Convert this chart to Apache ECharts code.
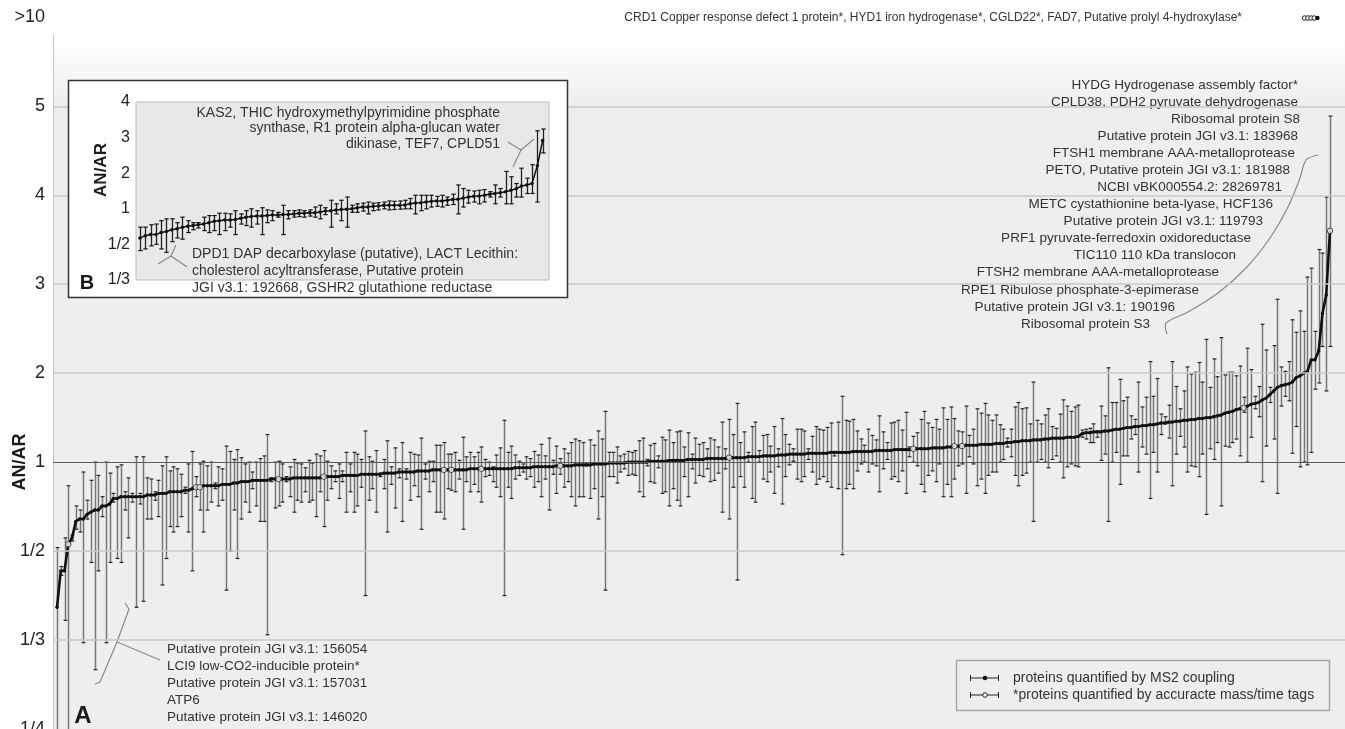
<!DOCTYPE html>
<html><head><meta charset="utf-8">
<script src="https://cdn.jsdelivr.net/npm/echarts@6/dist/echarts.min.js"></script>
<style>html,body{margin:0;padding:0;background:#fff}#c{width:1345px;height:729px}</style>
</head><body><div id="c"></div>
<script>
// ---------- DATA (AN/AR ratios) ----------
const mainRatio = [
0.38,0.45,0.45,0.52,0.54,0.60,0.61,0.61,0.63,0.64,
0.65,0.65,0.67,0.67,0.68,0.71,0.71,0.72,0.72,0.72,
0.72,0.72,0.72,0.72,0.73,0.73,0.73,0.74,0.74,0.74,
0.75,0.75,0.75,0.75,0.76,0.76,0.77,0.78,0.78,0.79,
0.79,0.79,0.79,0.79,0.80,0.80,0.80,0.81,0.81,0.82,
0.82,0.82,0.83,0.83,0.83,0.83,0.83,0.84,0.84,0.84,
0.84,0.84,0.84,0.85,0.85,0.85,0.85,0.85,0.85,0.85,
0.85,0.86,0.86,0.86,0.86,0.86,0.87,0.87,0.87,0.87,
0.87,0.88,0.88,0.88,0.88,0.88,0.88,0.89,0.89,0.89,
0.89,0.90,0.90,0.90,0.90,0.90,0.91,0.91,0.91,0.91,
0.92,0.92,0.92,0.92,0.92,0.92,0.92,0.92,0.92,0.92,
0.93,0.93,0.93,0.93,0.93,0.93,0.93,0.93,0.93,0.93,
0.93,0.93,0.94,0.94,0.94,0.94,0.94,0.95,0.95,0.95,
0.95,0.95,0.95,0.96,0.96,0.96,0.96,0.96,0.97,0.97,
0.97,0.97,0.97,0.98,0.98,0.98,0.98,0.99,0.99,0.99,
0.99,0.99,1.00,1.00,1.00,1.00,1.00,1.00,1.01,1.01,
1.01,1.01,1.01,1.02,1.02,1.02,1.02,1.02,1.03,1.03,
1.03,1.03,1.03,1.04,1.04,1.04,1.04,1.04,1.04,1.05,
1.05,1.05,1.05,1.05,1.06,1.06,1.06,1.06,1.07,1.07,
1.07,1.07,1.08,1.08,1.08,1.09,1.09,1.09,1.09,1.09,
1.10,1.10,1.10,1.10,1.10,1.10,1.11,1.11,1.11,1.11,
1.11,1.11,1.12,1.12,1.12,1.12,1.12,1.12,1.13,1.13,
1.13,1.13,1.13,1.14,1.14,1.14,1.14,1.14,1.15,1.15,
1.15,1.15,1.15,1.16,1.16,1.16,1.16,1.17,1.17,1.18,
1.18,1.18,1.19,1.19,1.19,1.19,1.20,1.20,1.20,1.20,
1.21,1.21,1.21,1.22,1.22,1.23,1.23,1.24,1.24,1.24,
1.25,1.25,1.25,1.26,1.26,1.27,1.27,1.27,1.27,1.28,
1.28,1.28,1.29,1.32,1.33,1.33,1.34,1.34,1.34,1.35,
1.35,1.36,1.37,1.37,1.38,1.39,1.39,1.40,1.40,1.41,
1.41,1.42,1.42,1.43,1.44,1.44,1.45,1.45,1.46,1.46,
1.47,1.47,1.48,1.48,1.49,1.49,1.50,1.50,1.51,1.52,
1.53,1.55,1.56,1.57,1.59,1.60,1.61,1.63,1.65,1.66,
1.67,1.70,1.72,1.76,1.80,1.84,1.86,1.87,1.88,1.90,
1.95,1.97,2.00,2.02,2.15,2.15,2.25,2.67,2.88,3.60];
const mainLow = [
0.20,0.44,0.36,0.20,0.53,0.57,0.56,0.33,0.61,0.47,
0.30,0.45,0.62,0.33,0.47,0.69,0.48,0.47,0.65,0.54,
0.69,0.38,0.68,0.39,0.61,0.61,0.70,0.62,0.42,0.48,
0.58,0.56,0.58,0.62,0.74,0.56,0.45,0.72,0.65,0.56,
0.65,0.69,0.77,0.67,0.70,0.41,0.50,0.65,0.48,0.61,
0.69,0.64,0.77,0.67,0.60,0.60,0.34,0.82,0.66,0.67,
0.69,0.82,0.72,0.64,0.70,0.69,0.75,0.69,0.70,0.62,
0.75,0.58,0.70,0.77,0.82,0.71,0.82,0.64,0.75,0.64,
0.67,0.78,0.40,0.70,0.77,0.64,0.86,0.77,0.56,0.80,
0.66,0.85,0.60,0.84,0.70,0.79,0.72,0.57,0.84,0.75,
0.82,0.64,0.64,0.61,0.77,0.76,0.75,0.84,0.57,0.82,
0.75,0.80,0.75,0.69,0.86,0.87,0.82,0.78,0.72,0.40,
0.78,0.71,0.84,0.87,0.90,0.84,0.86,0.78,0.82,0.72,
0.84,0.65,0.88,0.74,0.88,0.78,0.82,0.72,0.67,0.72,
0.72,0.96,0.71,0.77,0.61,0.72,0.41,0.86,0.86,0.81,
0.90,0.93,0.87,0.88,0.87,0.75,0.72,0.96,0.82,0.81,
0.94,0.74,0.75,0.67,0.77,0.70,0.67,0.86,0.72,0.93,
0.81,0.87,0.86,0.93,0.82,0.83,0.89,0.64,0.93,0.61,
0.78,0.43,0.86,0.78,1.00,0.71,0.69,1.00,0.84,0.82,
0.90,0.74,0.95,0.68,0.86,0.97,1.01,0.84,0.82,0.86,
1.03,0.90,0.80,0.84,0.86,0.82,0.78,1.07,0.77,0.49,
0.77,0.80,0.77,0.91,0.98,1.00,0.90,0.98,0.96,0.75,
0.93,1.03,0.84,0.86,0.82,0.91,0.74,1.06,1.00,0.96,
0.80,0.75,0.87,0.91,0.82,0.98,0.72,0.80,0.72,0.84,
0.96,0.98,0.74,1.06,0.98,0.79,0.84,0.74,0.87,0.90,
0.90,1.00,1.03,1.17,1.06,0.87,0.79,0.87,0.89,1.00,
0.60,1.00,1.03,1.00,0.94,1.03,1.07,1.00,0.85,0.95,
0.98,0.96,0.95,1.28,1.26,1.22,1.22,1.28,1.02,1.09,
0.60,1.00,1.11,0.80,1.07,1.07,1.26,1.31,0.90,1.17,
1.09,0.71,1.11,0.90,1.31,1.43,1.27,0.79,1.09,1.29,
1.17,0.90,0.96,0.95,0.86,1.09,0.63,1.15,1.03,1.22,
0.67,1.18,1.17,1.22,1.26,1.07,1.56,1.00,1.28,1.60,
1.51,0.82,1.18,1.67,1.26,0.74,1.63,1.74,1.69,1.10,
1.40,0.95,1.00,0.97,1.11,1.82,1.89,2.30,1.80,2.30];
const mainHigh = [
0.51,0.46,0.54,0.79,0.55,0.67,0.65,0.90,0.70,0.83,
1.00,0.87,0.72,1.00,0.89,0.74,0.95,0.97,0.75,0.85,
0.74,1.06,0.74,1.06,0.85,0.84,0.75,0.83,0.96,1.06,
0.91,0.95,0.93,0.88,0.78,0.98,1.12,0.86,0.98,1.01,
0.96,1.00,0.81,0.95,0.93,1.18,1.12,1.03,1.14,1.05,
0.98,1.00,0.90,1.00,1.04,1.07,1.31,0.85,1.00,1.01,
0.98,0.86,0.95,1.03,0.99,0.98,0.94,1.02,0.99,1.09,
1.07,1.13,1.01,0.96,0.91,0.98,0.91,1.11,0.98,1.11,
1.09,1.03,1.35,1.06,1.01,1.13,0.89,1.03,1.24,0.95,
1.16,0.93,1.22,0.93,1.11,1.09,1.08,1.27,0.98,1.01,
1.01,1.19,1.19,1.22,1.09,1.09,1.11,1.02,1.28,1.06,
1.11,1.06,1.11,1.17,1.03,1.00,0.95,1.08,1.16,1.47,
1.11,1.18,1.08,1.01,0.98,1.06,1.04,1.12,1.08,1.20,
1.07,1.27,1.02,1.18,1.04,1.15,1.10,1.22,1.26,1.24,
1.22,0.98,1.25,1.19,1.35,1.26,1.57,1.11,1.11,1.17,
1.07,1.09,1.12,1.11,1.13,1.24,1.27,1.03,1.19,1.21,
1.07,1.28,1.25,1.36,1.22,1.34,1.35,1.17,1.33,1.09,
1.27,1.20,1.22,1.15,1.27,1.25,1.17,1.45,1.15,1.48,
1.31,1.66,1.22,1.34,1.11,1.40,1.45,1.13,1.30,1.31,
1.18,1.40,1.15,1.49,1.31,1.20,1.15,1.37,1.37,1.35,
1.15,1.29,1.40,1.37,1.36,1.39,1.44,1.12,1.45,1.74,
1.47,1.46,1.48,1.35,1.26,1.19,1.37,1.30,1.25,1.52,
1.34,1.22,1.44,1.45,1.47,1.36,1.56,1.17,1.29,1.33,
1.48,1.57,1.44,1.39,1.48,1.37,1.61,1.48,1.62,1.49,
1.35,1.34,1.63,1.30,1.37,1.60,1.55,1.66,1.53,1.47,
1.53,1.42,1.37,1.27,1.37,1.62,1.67,1.60,1.61,1.43,
1.90,1.47,1.43,1.53,1.60,1.40,1.38,1.54,1.70,1.63,
1.57,1.62,1.64,1.36,1.37,1.38,1.43,1.35,1.63,1.52,
2.06,1.67,1.67,1.93,1.69,1.73,1.52,1.48,1.90,1.62,
1.73,2.13,1.74,1.94,1.54,1.51,1.64,2.13,1.85,1.60,
1.80,2.07,1.99,2.01,2.12,1.90,2.38,1.84,2.16,1.96,
2.40,1.98,2.01,2.01,1.97,2.08,1.73,2.28,2.04,1.74,
1.85,2.55,2.26,1.84,2.31,2.83,2.07,2.02,2.13,2.60,
2.46,2.70,2.47,3.08,3.18,2.47,3.39,3.35,3.98,4.89];
// indices of proteins quantified by accurate mass/time tags (open circles)
const mainAmtIdx = [3,37,38,59,71,103,105,113,134,179,228,239,241,316,339];

// proteins with AN/AR > 10 (true = accurate mass/time tag)
const overTenAmt = [true, true, true, true, false];

// inset B
const insetRatio = [
0.55,0.57,0.58,0.58,0.60,0.61,0.63,0.64,0.66,0.67,
0.68,0.69,0.70,0.72,0.74,0.75,0.76,0.76,0.77,0.79,
0.81,0.82,0.83,0.83,0.84,0.85,0.85,0.86,0.86,0.875,
0.89,0.89,0.90,0.90,0.92,0.94,0.95,0.97,0.98,0.99,
1.00,1.03,1.05,1.05,1.07,1.08,1.10,1.10,1.10,1.10,
1.11,1.14,1.16,1.17,1.19,1.21,1.22,1.22,1.24,1.26,
1.27,1.30,1.33,1.35,1.36,1.38,1.41,1.43,1.45,1.48,
1.52,1.56,1.64,1.67,1.71,2.21,2.92];
const insetLow = [
0.46,0.47,0.49,0.50,0.47,0.45,0.52,0.55,0.54,0.60,
0.63,0.65,0.62,0.60,0.62,0.58,0.62,0.66,0.58,0.70,
0.68,0.66,0.70,0.58,0.72,0.75,0.81,0.58,0.78,0.81,
0.82,0.81,0.83,0.81,0.78,0.86,0.66,0.875,0.75,0.66,
0.91,0.91,0.94,0.875,0.95,0.97,1.00,0.97,0.98,0.99,
1.00,1.00,0.875,0.95,1.00,1.05,1.07,1.05,1.10,1.12,
0.875,1.05,1.16,1.19,1.14,1.19,1.33,1.14,1.33,1.14,
1.14,1.33,1.33,1.43,1.43,1.19,2.57];
const insetHigh = [
0.66,0.66,0.69,0.70,0.75,0.78,0.78,0.72,0.81,0.75,
0.72,0.72,0.81,0.84,0.84,0.89,0.89,0.875,0.95,0.875,
0.95,1.00,0.95,1.03,0.97,0.95,0.91,1.10,0.95,0.95,
0.97,0.95,0.97,1.05,1.10,1.03,1.24,1.14,1.24,1.33,
1.10,1.14,1.16,1.19,1.16,1.17,1.19,1.22,1.21,1.22,
1.24,1.29,1.38,1.38,1.38,1.38,1.35,1.38,1.33,1.41,
1.67,1.57,1.52,1.50,1.52,1.54,1.48,1.67,1.57,2.05,
1.90,1.71,2.14,1.86,2.24,3.19,3.24];

// tick labels (axis position -> label)
const mainTickLabels = {'-3':'1/4','-2':'1/3','-1':'1/2','0':'1','1':'2','2':'3','3':'4','4':'5','5':'>10'};
const insetTickLabels = {'-2':'1/3','-1':'1/2','0':'1','1':'2','2':'3','3':'4'};

// texts
const overTenText = 'CRD1 Copper response defect 1 protein*, HYD1 iron hydrogenase*, CGLD22*, FAD7, Putative prolyl 4-hydroxylase*';
const annotHigh = ['HYDG Hydrogenase assembly factor*','CPLD38, PDH2 pyruvate dehydrogenase','Ribosomal protein S8',
 'Putative protein JGI v3.1: 183968','FTSH1 membrane AAA-metalloprotease','PETO, Putative protein JGI v3.1: 181988',
 'NCBI vBK000554.2: 28269781','METC cystathionine beta-lyase, HCF136','Putative protein JGI v3.1: 119793',
 'PRF1 pyruvate-ferredoxin oxidoreductase','TIC110 110 kDa translocon','FTSH2 membrane AAA-metalloprotease',
 'RPE1 Ribulose phosphate-3-epimerase','Putative protein JGI v3.1: 190196','Ribosomal protein S3'];
const annotLow = ['Putative protein JGI v3.1: 156054','LCI9 low-CO2-inducible protein*','Putative protein JGI v3.1: 157031','ATP6','Putative protein JGI v3.1: 146020'];
const insetAnnotHigh = ['KAS2, THIC hydroxymethylpyrimidine phosphate','synthase, R1 protein alpha-glucan water','dikinase, TEF7, CPLD51'];
const insetAnnotLow = ['DPD1 DAP decarboxylase (putative), LACT Lecithin:','cholesterol acyltransferase, Putative protein','JGI v3.1: 192668, GSHR2 glutathione reductase'];
const legendLabels = ['proteins quantified by MS2 coupling','*proteins quantified by accuracte mass/time tags'];
const axisTitle = 'AN/AR';

// ---------- BUILD ----------
const FONT = '"Liberation Sans", Arial, Helvetica, sans-serif';
function toAxis(v){ return v >= 1 ? v - 1 : 1 - 1 / v; }

function makeErr(capHalf, lineColor, capColor, lw){
  return function(params, api){
    const i = api.value(0);
    const pLo = api.coord([i, api.value(1)]);
    const pHi = api.coord([i, api.value(2)]);
    const cs = params.coordSys;
    const top = cs.y, bot = cs.y + cs.height;
    const x = Math.round(pLo[0]) + 0.5;
    const yLo = Math.min(pLo[1], bot), yHi = Math.max(pHi[1], top);
    const ch = [{type:'line', shape:{x1:x,y1:yLo,x2:x,y2:yHi}, style:{stroke:lineColor,lineWidth:lw}}];
    if (pLo[1] <= bot) ch.push({type:'line', shape:{x1:x-capHalf,y1:pLo[1],x2:x+capHalf,y2:pLo[1]}, style:{stroke:capColor,lineWidth:1.2}});
    if (pHi[1] >= top) ch.push({type:'line', shape:{x1:x-capHalf,y1:pHi[1],x2:x+capHalf,y2:pHi[1]}, style:{stroke:capColor,lineWidth:1.2}});
    return {type:'group', children:ch};
  };
}

const mainErrData = mainRatio.map((v,i)=>[i, toAxis(mainLow[i]), toAxis(mainHigh[i])]);
const mainLineData = mainRatio.map((v,i)=>[i, toAxis(v)]);
const mainOpenData = mainAmtIdx.map(i=>[i, toAxis(mainRatio[i])]);
const insetErrData = insetRatio.map((v,i)=>[i, toAxis(insetLow[i]), toAxis(insetHigh[i])]);
const insetLineData = insetRatio.map((v,i)=>[i, toAxis(v)]);
const overTenData = overTenAmt.map((amt,i)=>({value:[i,'>10'], itemStyle: amt ? {color:'#fff',borderColor:'#222',borderWidth:1} : {color:'#111'}}));

const lightGrid = {color:'#c9c9c9', width:1.5, type:'solid'};
const darkGrid = {color:'#5a5a5a', width:1, type:'solid'};

const graphics = [];
graphics.push({type:'line', z:1, shape:{x1:53.5,y1:35,x2:53.5,y2:729}, style:{stroke:'#c4c4c4',lineWidth:1}, silent:true});
graphics.push({type:'text', z:5, x:20, y:462, rotation:Math.PI/2, style:{text:axisTitle, font:'bold 18px '+FONT, fill:'#1a1a1a', textAlign:'center', textVerticalAlign:'middle'}});
graphics.push({type:'text', z:5, x:83, y:716, style:{text:'A', font:'bold 24px '+FONT, fill:'#1a1a1a', textAlign:'center', textVerticalAlign:'middle'}});
graphics.push({type:'text', z:5, x:1242, y:18, style:{text:overTenText, font:'12px '+FONT, fill:'#333', textAlign:'right', textVerticalAlign:'middle'}});
const highRight = [1298,1298,1300,1298,1295,1290,1282,1273,1263,1251,1236,1219,1199,1175,1150];
annotHigh.forEach((t,k)=>graphics.push({type:'text', z:5, x:highRight[k], y:85+17.07*k, style:{text:t, font:'13.5px '+FONT, fill:'#333', textAlign:'right', textVerticalAlign:'middle'}}));
graphics.push({type:'polyline', z:5, shape:{points:[[1167,334],[1166,323],[1188,312],[1218,293],[1246,268],[1270,238],[1289,205],[1300,178],[1306,160],[1318,155]], smooth:0.3}, style:{stroke:'#8a8a8a', lineWidth:1.2, fill:null}});
annotLow.forEach((t,k)=>graphics.push({type:'text', z:5, x:167, y:649+17*k, style:{text:t, font:'13.5px '+FONT, fill:'#333', textAlign:'left', textVerticalAlign:'middle'}}));
graphics.push({type:'polyline', z:5, shape:{points:[[125,603],[129,609],[117,642],[100,682],[95,684]]}, style:{stroke:'#8a8a8a', lineWidth:1.2, fill:null}});
graphics.push({type:'polyline', z:5, shape:{points:[[117,642],[160,660]]}, style:{stroke:'#8a8a8a', lineWidth:1.2, fill:null}});
graphics.push({type:'rect', z:5, shape:{x:956.5,y:660.5,width:373,height:50}, style:{fill:'#eeeeee', stroke:'#a8a8a8', lineWidth:1.5}});
[678,695].forEach((yy,k)=>{
  graphics.push({type:'line', z:6, shape:{x1:970,y1:yy,x2:999,y2:yy}, style:{stroke:'#222',lineWidth:1}});
  graphics.push({type:'line', z:6, shape:{x1:970.5,y1:yy-3,x2:970.5,y2:yy+3}, style:{stroke:'#222',lineWidth:1}});
  graphics.push({type:'line', z:6, shape:{x1:998.5,y1:yy-3,x2:998.5,y2:yy+3}, style:{stroke:'#222',lineWidth:1}});
  graphics.push({type:'circle', z:7, shape:{cx:985,cy:yy,r:2.3}, style: k===0 ? {fill:'#111'} : {fill:'#fff',stroke:'#222',lineWidth:1}});
  graphics.push({type:'text', z:6, x:1013, y:yy, style:{text:legendLabels[k], font:'14px '+FONT, fill:'#333', textAlign:'left', textVerticalAlign:'middle'}});
});
graphics.push({type:'rect', z:10, shape:{x:68.5,y:80.5,width:499,height:217}, style:{fill:'#ffffff', stroke:'#333', lineWidth:1.5}});
graphics.push({type:'text', z:14, x:101, y:170, rotation:Math.PI/2, style:{text:axisTitle, font:'bold 17px '+FONT, fill:'#1a1a1a', textAlign:'center', textVerticalAlign:'middle'}});
graphics.push({type:'text', z:14, x:87, y:283, style:{text:'B', font:'bold 20px '+FONT, fill:'#1a1a1a', textAlign:'center', textVerticalAlign:'middle'}});
insetAnnotHigh.forEach((t,k)=>graphics.push({type:'text', z:15, x:500, y:113+15.5*k, style:{text:t, font:'14px '+FONT, fill:'#333', textAlign:'right', textVerticalAlign:'middle'}}));
insetAnnotLow.forEach((t,k)=>graphics.push({type:'text', z:15, x:192, y:254+17*k, style:{text:t, font:'14px '+FONT, fill:'#333', textAlign:'left', textVerticalAlign:'middle'}}));
graphics.push({type:'polyline', z:15, shape:{points:[[508,142],[521,150],[513,167]]}, style:{stroke:'#8a8a8a', lineWidth:1.2, fill:null}});
graphics.push({type:'polyline', z:15, shape:{points:[[521,150],[534,139]]}, style:{stroke:'#8a8a8a', lineWidth:1.2, fill:null}});
graphics.push({type:'polyline', z:15, shape:{points:[[187,267],[171,256],[176,245]]}, style:{stroke:'#8a8a8a', lineWidth:1.2, fill:null}});
graphics.push({type:'polyline', z:15, shape:{points:[[171,256],[158,264]]}, style:{stroke:'#8a8a8a', lineWidth:1.2, fill:null}});

const option = {
  animation:false,
  backgroundColor:'#ffffff',
  textStyle:{fontFamily:FONT},
  grid:[
    {left:53, right:0, top:4, bottom:0, show:true, borderWidth:0, z:0, containLabel:false, outerBoundsMode:'none',
     backgroundColor:{type:'linear',x:0,y:0,x2:0,y2:1,colorStops:[{offset:0,color:'#ffffff'},{offset:0.043,color:'#ffffff'},{offset:0.14,color:'#eeeeee'},{offset:1,color:'#eeeeee'}]}},
    {left:136, top:102, width:413, height:178, show:true, backgroundColor:'#e8e8e8', borderColor:'#bdbdbd', borderWidth:1, z:11, containLabel:false, outerBoundsMode:'none'},
    {left:1303, top:13, width:16, height:10, show:false, containLabel:false, outerBoundsMode:'none'}
  ],
  xAxis:[
    {type:'value', gridIndex:0, min:-1.07, max:343, show:false},
    {type:'value', gridIndex:1, min:-0.75, max:77.2, show:false},
    {type:'value', gridIndex:2, min:-0.5, max:4.5, show:false}
  ],
  yAxis:[
    {type:'value', gridIndex:0, min:-3, max:5.15, interval:1, z:2,
     axisLine:{show:false}, axisTick:{show:false}, splitLine:{show:false},
     axisLabel:{margin:8, fontSize:18, color:'#222', fontFamily:FONT, formatter:v=>mainTickLabels[String(v)] || ''}},
    {type:'value', gridIndex:1, min:-2, max:3, interval:1, z:12,
     axisLine:{show:false}, axisTick:{show:false}, splitLine:{show:false},
     axisLabel:{margin:6, fontSize:16, color:'#222', fontFamily:FONT, formatter:v=>insetTickLabels[String(v)] || ''}},
    {type:'category', gridIndex:2, data:['>10'], show:false}
  ],
  graphic:{elements:graphics},
  series:[
    {type:'line', xAxisIndex:0, yAxisIndex:0, z:1, silent:true, data:[[0,0]], symbol:'none', lineStyle:{width:0},
     markLine:{silent:true, symbol:'none', label:{show:false}, animation:false,
       data:[{yAxis:-2,lineStyle:lightGrid},{yAxis:-1,lineStyle:lightGrid},{yAxis:1,lineStyle:lightGrid},
             {yAxis:2,lineStyle:lightGrid},{yAxis:3,lineStyle:lightGrid},{yAxis:4,lineStyle:lightGrid},{yAxis:0,lineStyle:darkGrid}]}},
    {type:'custom', xAxisIndex:0, yAxisIndex:0, z:2, silent:true, renderItem:makeErr(1.9,'#767676','#222',1.5),
     encode:{x:0,y:[1,2]}, data:mainErrData},
    {type:'line', xAxisIndex:0, yAxisIndex:0, z:3, silent:true, data:mainLineData, symbol:'circle', symbolSize:3.4,
     showSymbol:true, lineStyle:{color:'#111',width:2.6}, itemStyle:{color:'#111'}},
    {type:'scatter', xAxisIndex:0, yAxisIndex:0, z:4, silent:true, data:mainOpenData, symbol:'circle', symbolSize:5.5,
     itemStyle:{color:'#ffffff',borderColor:'#222',borderWidth:1}},
    {type:'line', xAxisIndex:1, yAxisIndex:1, z:12, silent:true, data:[[0,0]], symbol:'none', lineStyle:{width:0},
     markLine:{silent:true, symbol:'none', label:{show:false}, animation:false,
       data:[{yAxis:-1,lineStyle:{color:'#bdbdbd',width:1.2}},{yAxis:1,lineStyle:{color:'#bdbdbd',width:1.2}},
             {yAxis:2,lineStyle:{color:'#bdbdbd',width:1.2}},{yAxis:0,lineStyle:{color:'#555',width:1}}]}},
    {type:'custom', xAxisIndex:1, yAxisIndex:1, z:13, silent:true, renderItem:makeErr(2.2,'#222','#111',1.3),
     encode:{x:0,y:[1,2]}, data:insetErrData},
    {type:'line', xAxisIndex:1, yAxisIndex:1, z:14, silent:true, data:insetLineData, symbol:'circle', symbolSize:3.5,
     lineStyle:{color:'#111',width:1.5}, itemStyle:{color:'#111'}},
    {type:'line', xAxisIndex:2, yAxisIndex:2, z:6, silent:true, data:overTenData, symbol:'circle', symbolSize:4.5,
     lineStyle:{color:'#222',width:1}}
  ]
};
const chart = echarts.init(document.getElementById('c'), null, {renderer:'canvas'});
chart.setOption(option);
</script></body></html>
